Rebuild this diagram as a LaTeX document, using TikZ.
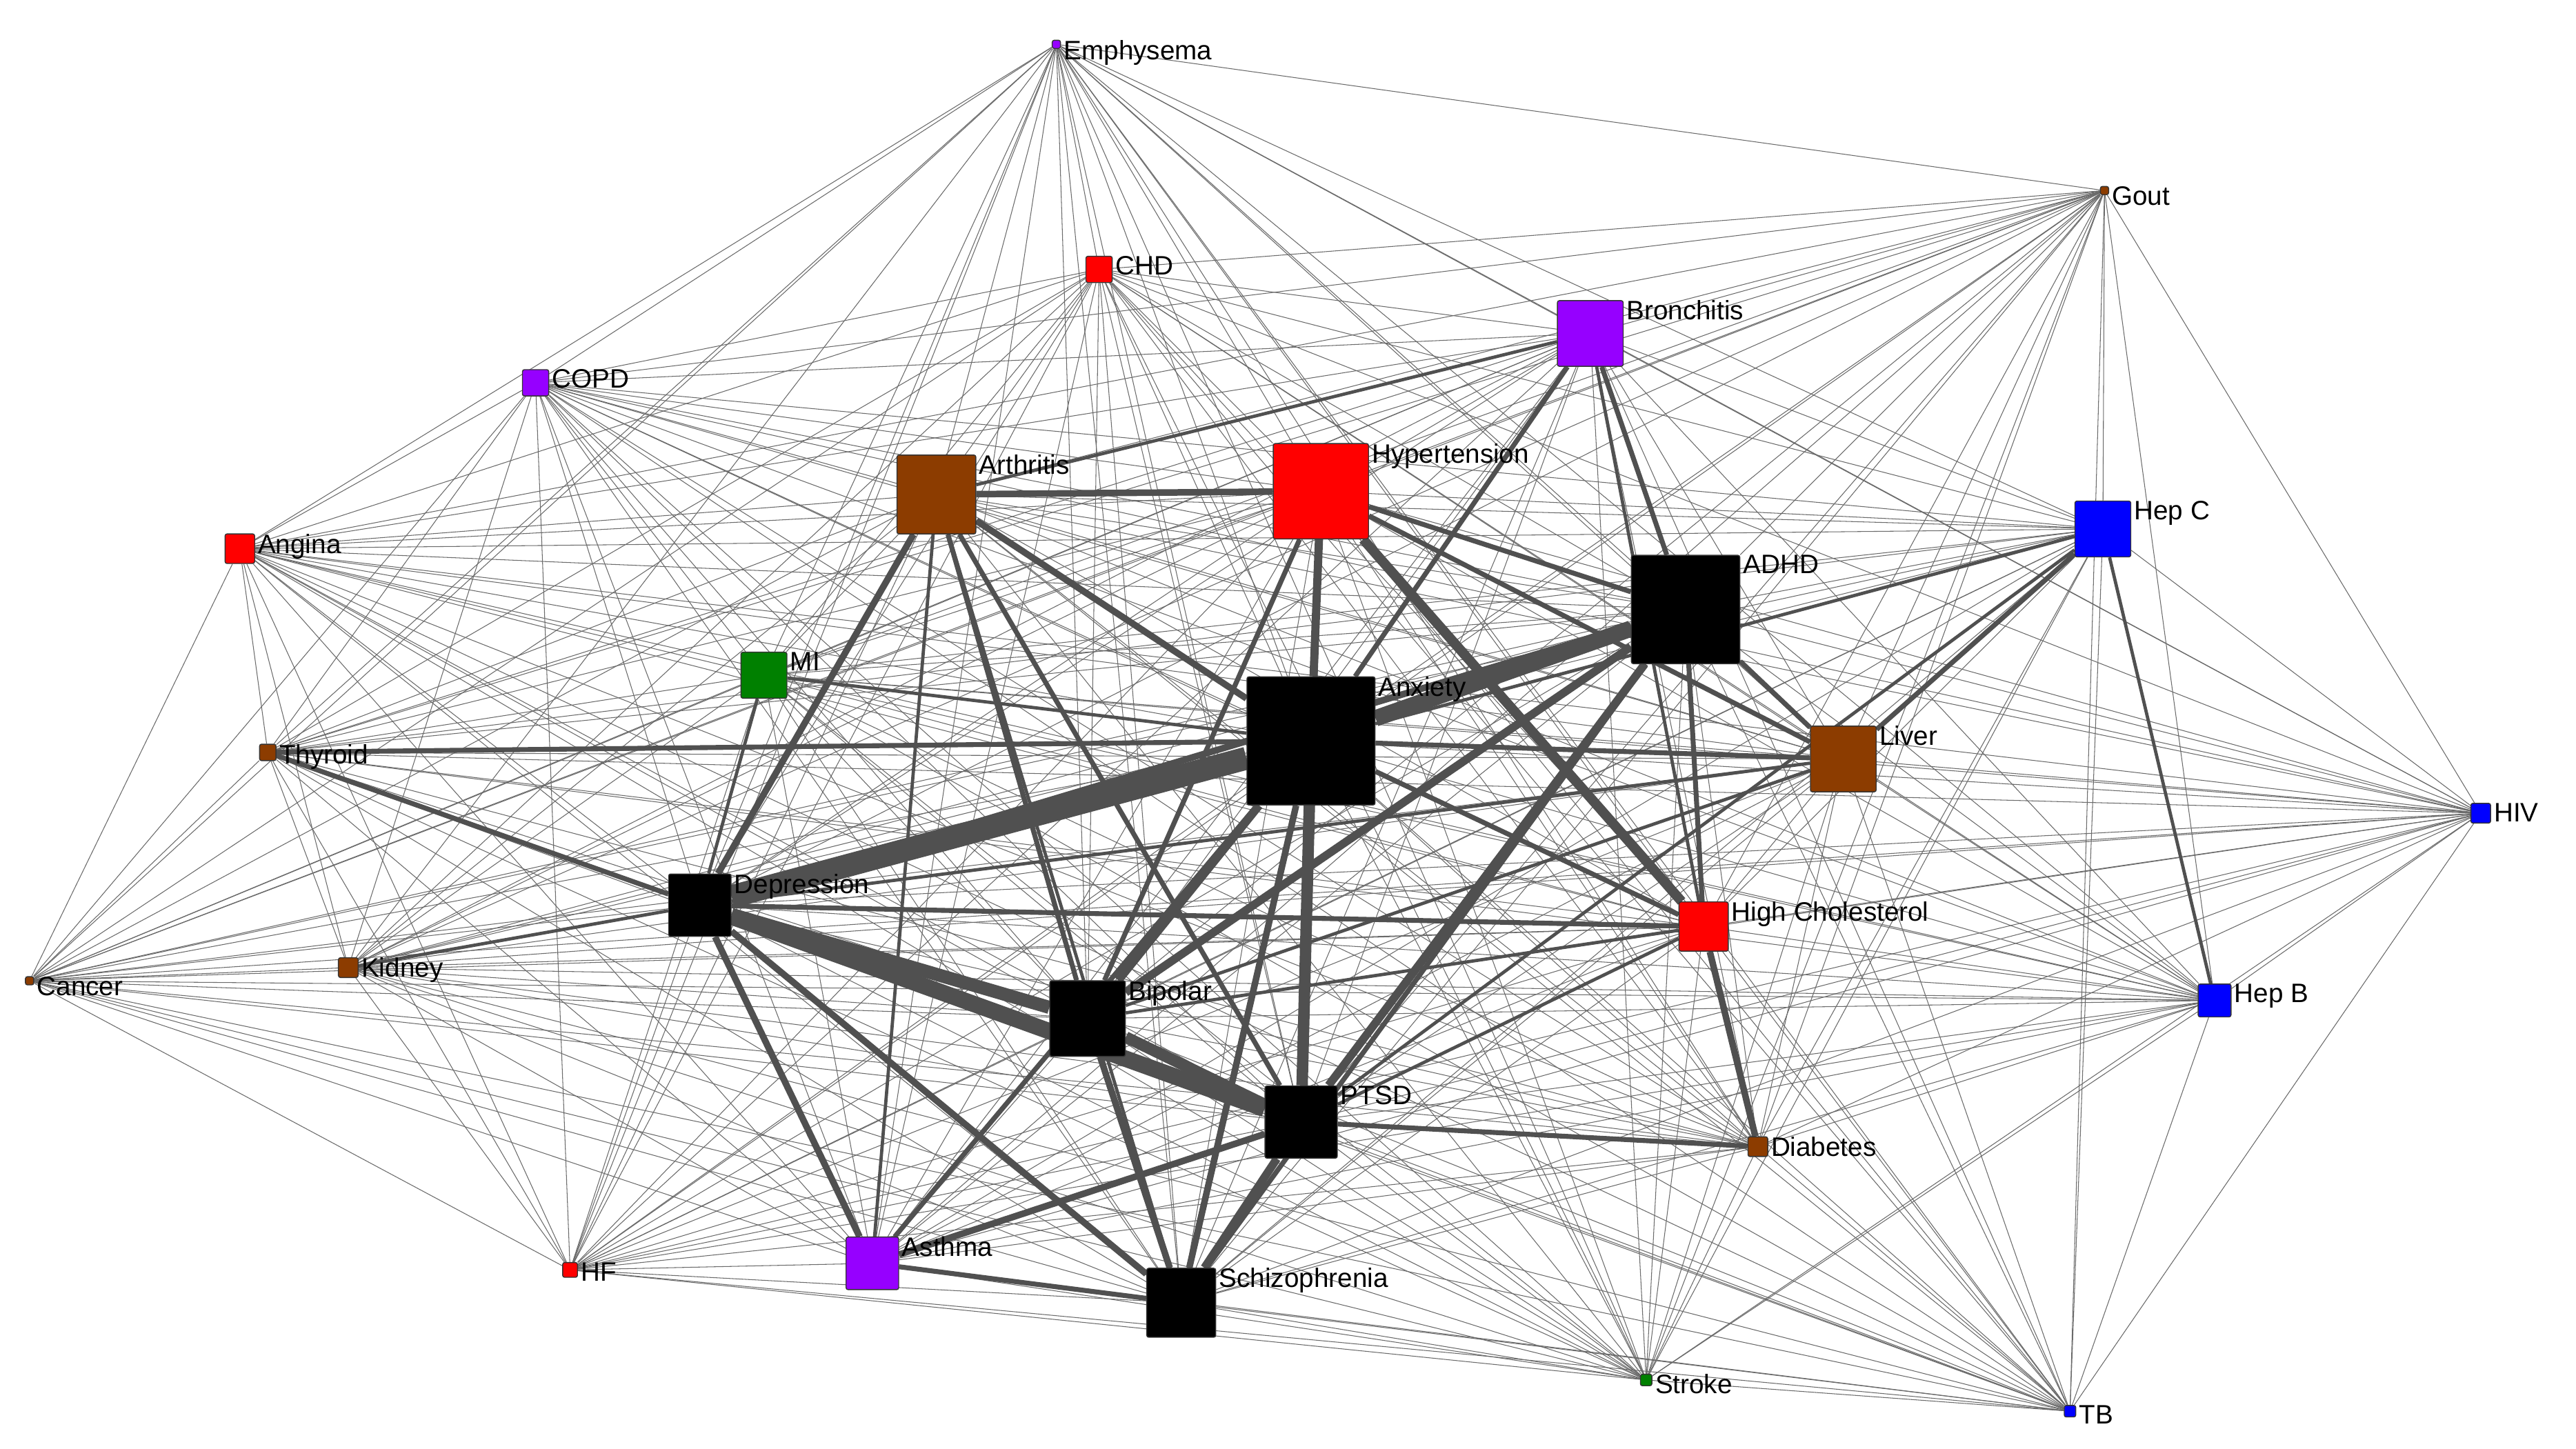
\documentclass[tikz,border=0pt]{standalone}
\usepackage{fontspec}
\setmainfont{Liberation Sans}
\usetikzlibrary{backgrounds}
\definecolor{cPur}{RGB}{150,0,255}
\definecolor{cBro}{RGB}{140,60,0}
\definecolor{cRed}{RGB}{255,0,0}
\definecolor{cBlu}{RGB}{0,0,255}
\definecolor{cGrn}{RGB}{0,128,0}
\definecolor{cEdge}{RGB}{80,80,80}
\begin{document}
\begin{tikzpicture}[x=0.02382cm,y=-0.02382cm,
 nd/.style 2 args={draw=black!80,line width=0.4pt,rounded corners=0.8pt,fill=#2,minimum size=#1*0.02382cm,inner sep=0pt},
 lb/.style={font=\fontsize{11}{13}\selectfont},
 thin/.style={draw=cEdge!85,line width=0.3pt},
 thk/.style={draw=cEdge,line width=#1*0.675pt}]
\useasboundingbox (0,0) rectangle (1568,882);
\foreach \n/\x/\y/\s/\c/\t in {
 em/643/27/5/cPur/Emphysema, go/1281/116/5/cBro/Gout, chd/669/164/16/cRed/CHD,
 br/968/203/40/cPur/Bronchitis, co/326/233/16/cPur/COPD, ar/570/301/48/cBro/Arthritis,
 hy/804/299/58/cRed/Hypertension, an/146/334/18/cRed/Angina, hc/1280/322/34/cBlu/Hep C,
 ad/1026/371/66/black/ADHD, mi/465/411/28/cGrn/MI, ax/798/451/78/black/Anxiety,
 th/163/458/10/cBro/Thyroid, li/1122/462/40/cBro/Liver, hiv/1510/495/12/cBlu/HIV,
 de/426/551/38/black/Depression, hch/1037/564/30/cRed/High Cholesterol,
 ca/18/597/5/cBro/Cancer, ki/212/589/12/cBro/Kidney, hb/1348/609/20/cBlu/Hep B,
 bi/662/620/46/black/Bipolar, pt/792/683/44/black/PTSD, di/1070/698/12/cBro/Diabetes,
 as/531/769/32/cPur/Asthma, hf/347/773/9/cRed/HF, sc/719/793/42/black/Schizophrenia,
 st/1002/840/7/cGrn/Stroke, tb/1260/859/7/cBlu/TB}
 \node[nd={\s}{\c},label={[lb,anchor=north west,inner sep=1pt,yshift=1pt]north east:\t}] (\n) at (\x,\y) {};
\begin{pgfonlayer}{background}
\foreach \a [count=\i] in {em,go,chd,br,co,ar,hy,an,hc,ad,mi,ax,th,li,hiv,de,hch,ca,ki,hb,bi,pt,di,as,hf,sc,st,tb}{
 \foreach \b [count=\j] in {em,go,chd,br,co,ar,hy,an,hc,ad,mi,ax,th,li,hiv,de,hch,ca,ki,hb,bi,pt,di,as,hf,sc,st,tb}{
  \ifnum\j>\i \draw[thin] (\a) -- (\b); \fi }}
\foreach \a/\b/\w in {ax/de/14, ax/ad/10, de/pt/10, de/bi/8, bi/pt/7, ax/pt/7, hy/hch/6,
 ax/bi/5, ad/bi/5, ad/pt/5, ad/de/4, ar/de/4, ar/ax/4, ar/hy/4, hy/ax/5, de/sc/4, de/as/4,
 bi/sc/4, pt/sc/5, pt/as/4, as/sc/3, ax/sc/4, ax/as/3, br/ad/3, br/ax/3, hch/di/4, ad/hch/3,
 ax/hch/3, hy/li/3, th/de/3, th/ax/3, hc/li/3, hc/ax/2, de/hch/3, pt/di/3, ar/bi/3, hy/bi/3,
 ad/li/3, hy/ad/3, br/hch/2, ar/pt/3, hy/pt/3, ad/sc/3, ax/li/3, mi/de/2, ki/de/2, de/li/2,
 hc/pt/2, hc/hb/2, ar/sc/2, ar/as/2, br/ar/2, mi/ax/2, li/bi/2, hch/pt/2, hch/bi/2}
 \draw[thk=\w] (\a) -- (\b);
\end{pgfonlayer}
\end{tikzpicture}
\end{document}
